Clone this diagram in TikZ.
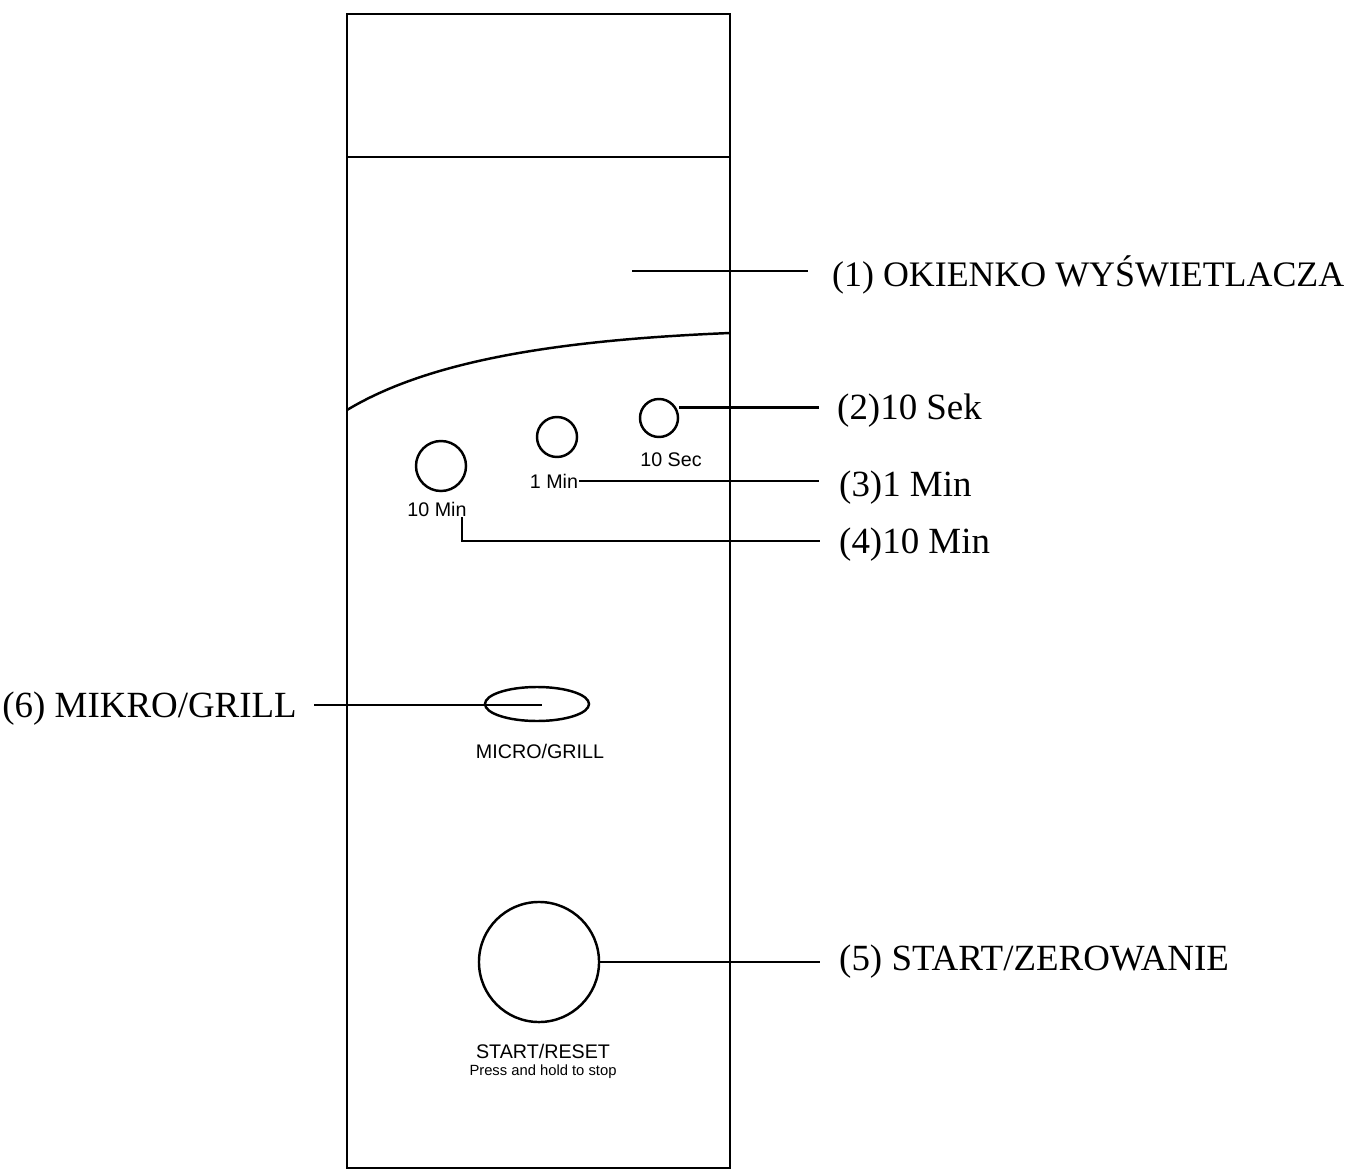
\documentclass[tikz,border=0pt]{standalone}
\usepackage{fontspec}
\setmainfont{Liberation Serif}
\setsansfont{Liberation Sans}
\usetikzlibrary{positioning,shapes.geometric}
\begin{document}
\begin{tikzpicture}[x=0.01cm,y=-0.01cm,line width=0.7pt,
    knob/.style={circle,draw,inner sep=0pt},
    callout/.style={anchor=west,font=\fontsize{10.5}{12}\selectfont,inner sep=0pt},
    tag/.style={font=\sffamily\fontsize{5.6}{6.5}\selectfont,inner sep=0pt}]
  \useasboundingbox (0,0) rectangle (1351,1173);
  % Panel
  \draw (347,14) rectangle (730,1168);
  \draw (347,157) -- (730,157);
  \draw (347,410) .. controls (430,360) and (560,340) .. (730,333);
  % Knobs
  \node[knob,minimum size=38*0.2845pt] (sec) at (659,418) {};
  \node[knob,minimum size=40*0.2845pt] (min) at (557,437) {};
  \node[knob,minimum size=50*0.2845pt] (tmin) at (441,466) {};
  \node[ellipse,draw,minimum width=104*0.2845pt,minimum height=34*0.2845pt,inner sep=0pt] (mg) at (537,704) {};
  \node[knob,minimum size=120*0.2845pt] (st) at (539,962) {};
  % Tags
  \node[tag] (secT) at (671,460) {10 Sec};
  \node[tag] (minT) at (554,481) {1 Min};
  \node[tag] (tminT) at (437,509) {10 Min};
  \node[tag] (mgT) at (540,751) {MICRO/GRILL};
  \node[tag] (stT) at (543,1051) {START/RESET};
  \node[tag,font=\sffamily\fontsize{4.2}{5}\selectfont] (stS) at (543,1072) {Press and hold to stop};
  % Callouts
  \coordinate (disp) at (632,271);
  \node[callout,font=\fontsize{10.2}{12}\selectfont] (c1) at (831,275) {(1) OKIENKO WYŚWIETLACZA};
  \node[callout] (c2) at (836,411) {(2)10 Sek};
  \node[callout] (c3) at (838,488) {(3)1 Min};
  \node[callout] (c4) at (838,545) {(4)10 Min};
  \node[callout] (c5) at (838,962) {(5) START/ZEROWANIE};
  \node[callout,anchor=east] (c6) at (298,709) {(6) MIKRO/GRILL};
  \draw (disp) -- (disp -| 808,0);
  \draw ([yshift=3pt]sec.east) -- ++(140,0);
  \draw (minT.east) -- ++(240,0);
  \draw (tminT.south east) ++(-6,0) |- (820,541);
  \draw (314,705) -- (542,705);
  \draw (st.east) -- (820,962);
\end{tikzpicture}
\end{document}
